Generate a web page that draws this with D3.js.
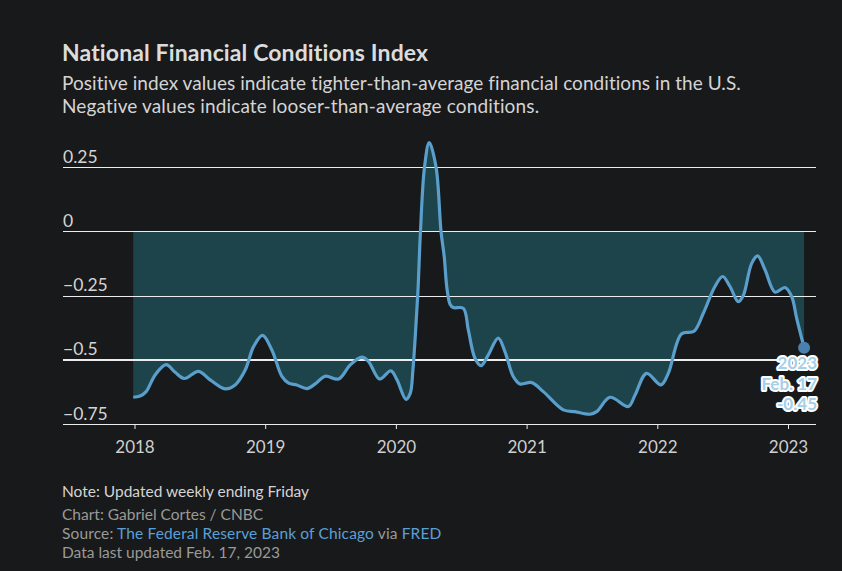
<!DOCTYPE html>
<html>
<head>
<meta charset="utf-8">
<script src="https://cdn.jsdelivr.net/npm/d3@7"></script>
<style>
  html, body { margin: 0; padding: 0; background: #18191b; }
  svg { display: block; font-family: Lato, sans-serif; }
  text { font-family: Lato, sans-serif; font-variant-ligatures: none; }
  .domain { display: none; }
</style>
</head>
<body>
<svg id="chart" width="842" height="571"></svg>
<script>
// decimal years since 2018
const years = [-0.01,0.043,0.089,0.158,0.242,0.311,0.38,0.49,0.579,0.694,0.77,0.847,0.911,0.98,1.051,1.128,1.179,1.242,1.319,1.383,1.459,1.561,1.651,1.74,1.791,1.875,1.962,2.008,2.077,2.11,2.13,2.148,2.168,2.188,2.219,2.255,2.307,2.345,2.37,2.39,2.415,2.439,2.516,2.554,2.605,2.651,2.707,2.783,2.834,2.898,2.949,3.039,3.128,3.281,3.37,3.485,3.536,3.638,3.778,3.83,3.918,4.028,4.084,4.186,4.281,4.352,4.441,4.5,4.556,4.62,4.658,4.722,4.768,4.824,4.901,4.977,5.028,5.066,5.123];
const index = [-0.646,-0.641,-0.624,-0.559,-0.519,-0.549,-0.573,-0.545,-0.578,-0.613,-0.598,-0.54,-0.449,-0.405,-0.462,-0.565,-0.591,-0.598,-0.612,-0.594,-0.564,-0.575,-0.52,-0.49,-0.507,-0.575,-0.543,-0.578,-0.654,-0.63,-0.54,-0.41,-0.24,0,0.25,0.345,0.25,0,-0.1,-0.22,-0.285,-0.297,-0.3,-0.384,-0.494,-0.523,-0.481,-0.416,-0.468,-0.565,-0.594,-0.589,-0.624,-0.695,-0.702,-0.712,-0.702,-0.646,-0.682,-0.637,-0.553,-0.598,-0.553,-0.399,-0.389,-0.319,-0.215,-0.176,-0.215,-0.274,-0.25,-0.125,-0.096,-0.15,-0.237,-0.219,-0.254,-0.338,-0.453];
const yTicks = [0.25, 0, -0.25, -0.5, -0.75];
const yTickLabels = ["0.25", "0", "−0.25", "−0.5", "−0.75"];
const xTicks = [0, 1, 2, 3, 4, 5];
const xTickLabels = ["2018", "2019", "2020", "2021", "2022", "2023"];
const calloutLines = ["2023", "Feb. 17", "-0.45"];

const points = years.map((t, i) => ({ t, v: index[i] }));
const last = points[points.length - 1];

const svg = d3.select("#chart");

const x = d3.scaleLinear().domain([0, 5]).range([134.5, 788]);
const y = d3.scaleLinear().domain([0.25, -0.75]).range([167, 424]);

// header
svg.append("text").attr("x", 62).attr("y", 61)
  .attr("font-size", 23).attr("font-weight", 700).attr("fill", "#dcdcdc")
  .attr("letter-spacing", 0.12)
  .text("National Financial Conditions Index");
svg.append("text").attr("x", 62).attr("y", 90)
  .attr("font-size", 19).attr("fill", "#d4d4d4")
  .attr("letter-spacing", 0.05)
  .text("Positive index values indicate tighter-than-average financial conditions in the U.S.");
svg.append("text").attr("x", 62).attr("y", 112.5)
  .attr("font-size", 19).attr("fill", "#d4d4d4")
  .attr("letter-spacing", 0.14)
  .text("Negative values indicate looser-than-average conditions.");

// shaded area down from zero to the line
const area = d3.area().curve(d3.curveCatmullRom)
  .x(d => x(d.t)).y0(y(0)).y1(d => y(d.v));
svg.append("path").datum(points)
  .attr("d", area).attr("fill", "#1d434b");

// grid + y labels
const yAxis = d3.axisRight(y).tickValues(yTicks).tickSize(753)
  .tickFormat((d, i) => yTickLabels[i]);
const yg = svg.append("g").attr("transform", "translate(63,0)").call(yAxis);
yg.selectAll(".tick line")
  .attr("stroke", "#ececec")
  .attr("shape-rendering", "crispEdges")
  .attr("stroke-width", d => d === -0.5 ? 2 : 1);
yg.selectAll(".tick text")
  .attr("x", 0).attr("dy", -5)
  .attr("font-size", 17.5).attr("fill", "#d4d4d4");

// x axis
const xAxis = d3.axisBottom(x).tickValues(xTicks).tickSize(5).tickPadding(12)
  .tickFormat((d, i) => xTickLabels[i]);
const xg = svg.append("g").attr("transform", "translate(0,424)").call(xAxis);
xg.selectAll(".tick line").attr("stroke", "#ececec");
xg.selectAll(".tick text").attr("font-size", 17).attr("fill", "#cfcfcf");

// index line
const line = d3.line().curve(d3.curveCatmullRom).x(d => x(d.t)).y(d => y(d.v));
svg.append("path").datum(points)
  .attr("d", line).attr("fill", "none")
  .attr("stroke", "#5a9ecb").attr("stroke-width", 3.2).attr("stroke-linejoin", "round");

// latest value
svg.append("circle").attr("cx", x(last.t)).attr("cy", y(last.v)).attr("r", 6)
  .attr("fill", "#4a80ad");
svg.append("g").selectAll("text").data(calloutLines).enter().append("text")
  .attr("x", 817)
  .attr("y", (d, i) => 369 + i * 20.5)
  .attr("text-anchor", "end")
  .attr("font-size", 17).attr("font-weight", 700)
  .attr("fill", "#a5d0e8").attr("stroke", "#ffffff").attr("stroke-width", 4)
  .attr("stroke-linejoin", "round").attr("paint-order", "stroke")
  .text(d => d);

// footer
svg.append("text").attr("x", 62).attr("y", 497)
  .attr("font-size", 15.5).attr("fill", "#d4d4d4")
  .text("Note: Updated weekly ending Friday");
const credit = svg.append("g").attr("font-size", 15.5).attr("fill", "#9a9a96");
credit.append("text").attr("x", 62).attr("y", 520).text("Chart: Gabriel Cortes / CNBC");
const src = credit.append("text").attr("x", 62).attr("y", 539).attr("letter-spacing", 0.14);
src.append("tspan").text("Source: ");
src.append("tspan").attr("fill", "#5aa0d6").text("The Federal Reserve Bank of Chicago");
src.append("tspan").text(" via ");
src.append("tspan").attr("fill", "#5aa0d6").text("FRED");
credit.append("text").attr("x", 62).attr("y", 558).text("Data last updated Feb. 17, 2023");
</script>
</body>
</html>
